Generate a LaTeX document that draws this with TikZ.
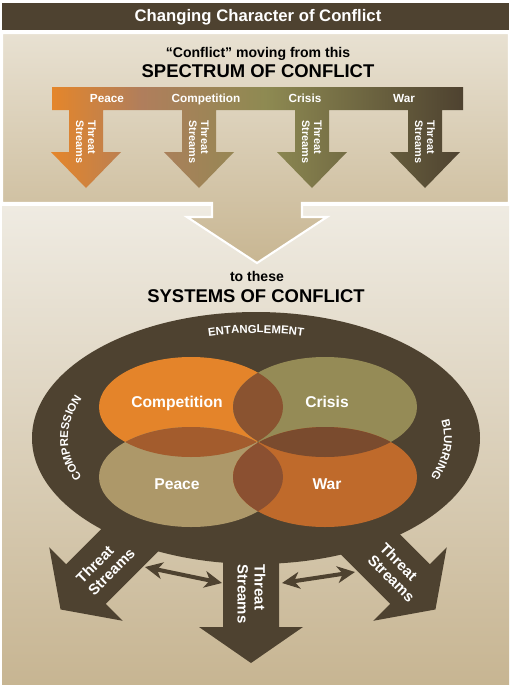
\documentclass[tikz,border=0pt]{standalone}
\usepackage{fontspec}
\setmainfont{Liberation Sans}
\usetikzlibrary{arrows.meta,decorations.text,positioning}
\newcommand\ringx{256}
\newcommand\ringy{438}
\newcommand\midrx{188}
\newcommand\midry{105}
\newcommand\vennrx{92}
\newcommand\vennry{50}
\newcommand\ringfont{\fontsize{6.5}{7}\selectfont\bfseries}
\definecolor{darkbrown}{HTML}{4E4230}
\definecolor{spOrange}{HTML}{E5862A}
\definecolor{spRose}{HTML}{B07E5C}
\definecolor{spOlive}{HTML}{8E8A52}
\definecolor{spDark}{HTML}{4E4230}
\definecolor{topA}{HTML}{E8E1D2}
\definecolor{topB}{HTML}{C8B692}
\definecolor{lowA}{HTML}{EFEBE2}
\definecolor{lowB}{HTML}{C7B592}
\definecolor{compOrange}{HTML}{E4842A}
\definecolor{crisisOlive}{HTML}{958B56}
\definecolor{peaceTan}{HTML}{AD9869}
\definecolor{warRust}{HTML}{BF6A2B}
\definecolor{lensTop}{HTML}{8A5330}
\definecolor{lensLeft}{HTML}{A35C2D}
\definecolor{lensRight}{HTML}{7A4B2E}
\definecolor{lensBottom}{HTML}{8B5031}
\pgfdeclarehorizontalshading{spectrum}{100bp}{color(0bp)=(spOrange); color(25bp)=(spOrange); color(36bp)=(spRose); color(51bp)=(spOlive); color(75bp)=(spDark); color(100bp)=(spDark)}
\tikzset{whitetext/.style={text=white,inner sep=0pt},
        titletext/.style={whitetext,anchor=base,font=\fontsize{9.5}{11}\selectfont\bfseries},
        heading/.style={anchor=base,inner sep=0pt,font=\fontsize{10.5}{12}\selectfont\bfseries},
        subheading/.style={anchor=base,inner sep=0pt,font=\fontsize{8}{9}\selectfont\bfseries},
        barlabel/.style={whitetext,anchor=base,font=\fontsize{6.7}{8}\selectfont\bfseries},
        smallstream/.style={whitetext,rotate=-90,align=left,font=\fontsize{6.2}{6.9}\selectfont\bfseries},
        bigstream/.style={whitetext,align=left,font=\fontsize{8.5}{9.6}\selectfont\bfseries},
        vennlabel/.style={whitetext,anchor=base,font=\fontsize{8.9}{10}\selectfont\bfseries},
        ringtext/.style={decorate,decoration={text along path,text={|\ringfont|#1},text align=center,text color=white}},
        twoway/.style={darkbrown,line width=2.3pt,{Stealth[length=10pt,width=9.5pt,inset=3pt]}-{Stealth[length=10pt,width=9.5pt,inset=3pt]}}}
\newcommand\streamarrow[3]{\fill[darkbrown,shift={(#1,#2)},rotate=#3] (-28,-110) -- (-28,0) -- (-52,0) -- (0,36) -- (52,0) -- (28,0) -- (28,-110) -- cycle;}

\begin{document}
\begin{tikzpicture}[x=0.02cm,y=-0.02cm]
                \useasboundingbox (0,0) rectangle (512,687);
                \fill[white] (0,0) rectangle (512,687);
                \fill[darkbrown] (2,3) rectangle (509,30);
                \node[titletext] (title) at (258,21.5) {Changing Character of Conflict};

                \path[top color=lowA,bottom color=lowB] (2,206) rectangle (509,684);
                \path[top color=topA,bottom color=topB,draw=white,line width=1.2pt] (2,33) -- (509,33) -- (509,203) -- (302,203) -- (302,217) -- (327,217) -- (257,263) -- (187,217) -- (212,217) -- (212,203) -- (2,203) -- cycle;

                \node[subheading] (moving) at (258,57) {“Conflict” moving from this};
                \node[heading] (spectrum) at (258,77.5) {SPECTRUM OF CONFLICT};

                \path[shading=spectrum] (52,87) -- (463,87) -- (463,110) foreach \c in {425,312,199,86}{ -- (\c+17,110) -- (\c+17,152) -- (\c+35,152) -- (\c,188) -- (\c-35,152) -- (\c-17,152) -- (\c-17,110)} -- (52,110) -- cycle;
                \node[barlabel] (spPeace) at (107,102.5) {Peace};
                \node[barlabel] (spCompetition) at (206,102.5) {Competition};
                \node[barlabel] (spCrisis) at (305,102.5) {Crisis};
                \node[barlabel] (spWar) at (404,102.5) {War};
                \foreach \c/\n in {86/a,199/b,312/c,425/d}\node[smallstream] (stream\n) at (\c,142) {Threat\\Streams};

                \node[subheading] (tothese) at (257,281.5) {to these};
                \node[heading] (systems) at (256,302) {SYSTEMS OF CONFLICT};

                \fill[darkbrown] (\ringx,\ringy) ellipse [x radius=224,y radius=126];
                \streamarrow{86}{584}{-45}
                \streamarrow{251}{627}{0}
                \streamarrow{410}{584}{45}

                \fill[compOrange] (191,407) ellipse [x radius=\vennrx,y radius=\vennry];
                \fill[crisisOlive] (325,407) ellipse [x radius=\vennrx,y radius=\vennry];
                \fill[peaceTan] (191,477) ellipse [x radius=\vennrx,y radius=\vennry];
                \fill[warRust] (325,477) ellipse [x radius=\vennrx,y radius=\vennry];
                \begin{scope}
                \clip (191,407) ellipse [x radius=\vennrx,y radius=\vennry];
                \fill[lensTop] (325,407) ellipse [x radius=\vennrx,y radius=\vennry];
                \fill[lensLeft] (191,477) ellipse [x radius=\vennrx,y radius=\vennry];
                \end{scope}
                \begin{scope}
                \clip (325,477) ellipse [x radius=\vennrx,y radius=\vennry];
                \fill[lensRight] (325,407) ellipse [x radius=\vennrx,y radius=\vennry];
                \fill[lensBottom] (191,477) ellipse [x radius=\vennrx,y radius=\vennry];
                \end{scope}

                \node[vennlabel] (competition) at (177,407) {Competition};
                \node[vennlabel] (crisis) at (327,407) {Crisis};
                \node[vennlabel] (peace) at (177,489) {Peace};
                \node[vennlabel] (war) at (327,489) {War};

                \path[shift={(\ringx,\ringy)},ringtext=ENTANGLEMENT] (-130:\midrx\space and \midry) arc [start angle=-130,end angle=-50,x radius=\midrx,y radius=\midry];
                \path[shift={(\ringx,\ringy)},ringtext=COMPRESSION] (145:\midrx\space and \midry) arc [start angle=145,end angle=215,x radius=\midrx,y radius=\midry];
                \path[shift={(\ringx,\ringy)},ringtext=BLURRING] (-30:\midrx\space and \midry) arc [start angle=-30,end angle=40,x radius=\midrx,y radius=\midry];

                \node[bigstream,rotate=45] (leftstream) at (105.5,565.5) {Threat\\Streams};
                \node[bigstream,rotate=-90] (midstream) at (251.5,594) {Threat\\Streams};
                \node[bigstream,rotate=-45] (rightstream) at (397.5,572.5) {Threat\\Streams};

                \coordinate (leftA) at (145,567);
                \coordinate (leftB) at (222,583);
                \coordinate (rightA) at (282,583);
                \coordinate (rightB) at (355,572);
                \draw[twoway] (leftA) -- (leftB);
                \draw[twoway] (rightA) -- (rightB);
            \end{tikzpicture}
\end{document}
